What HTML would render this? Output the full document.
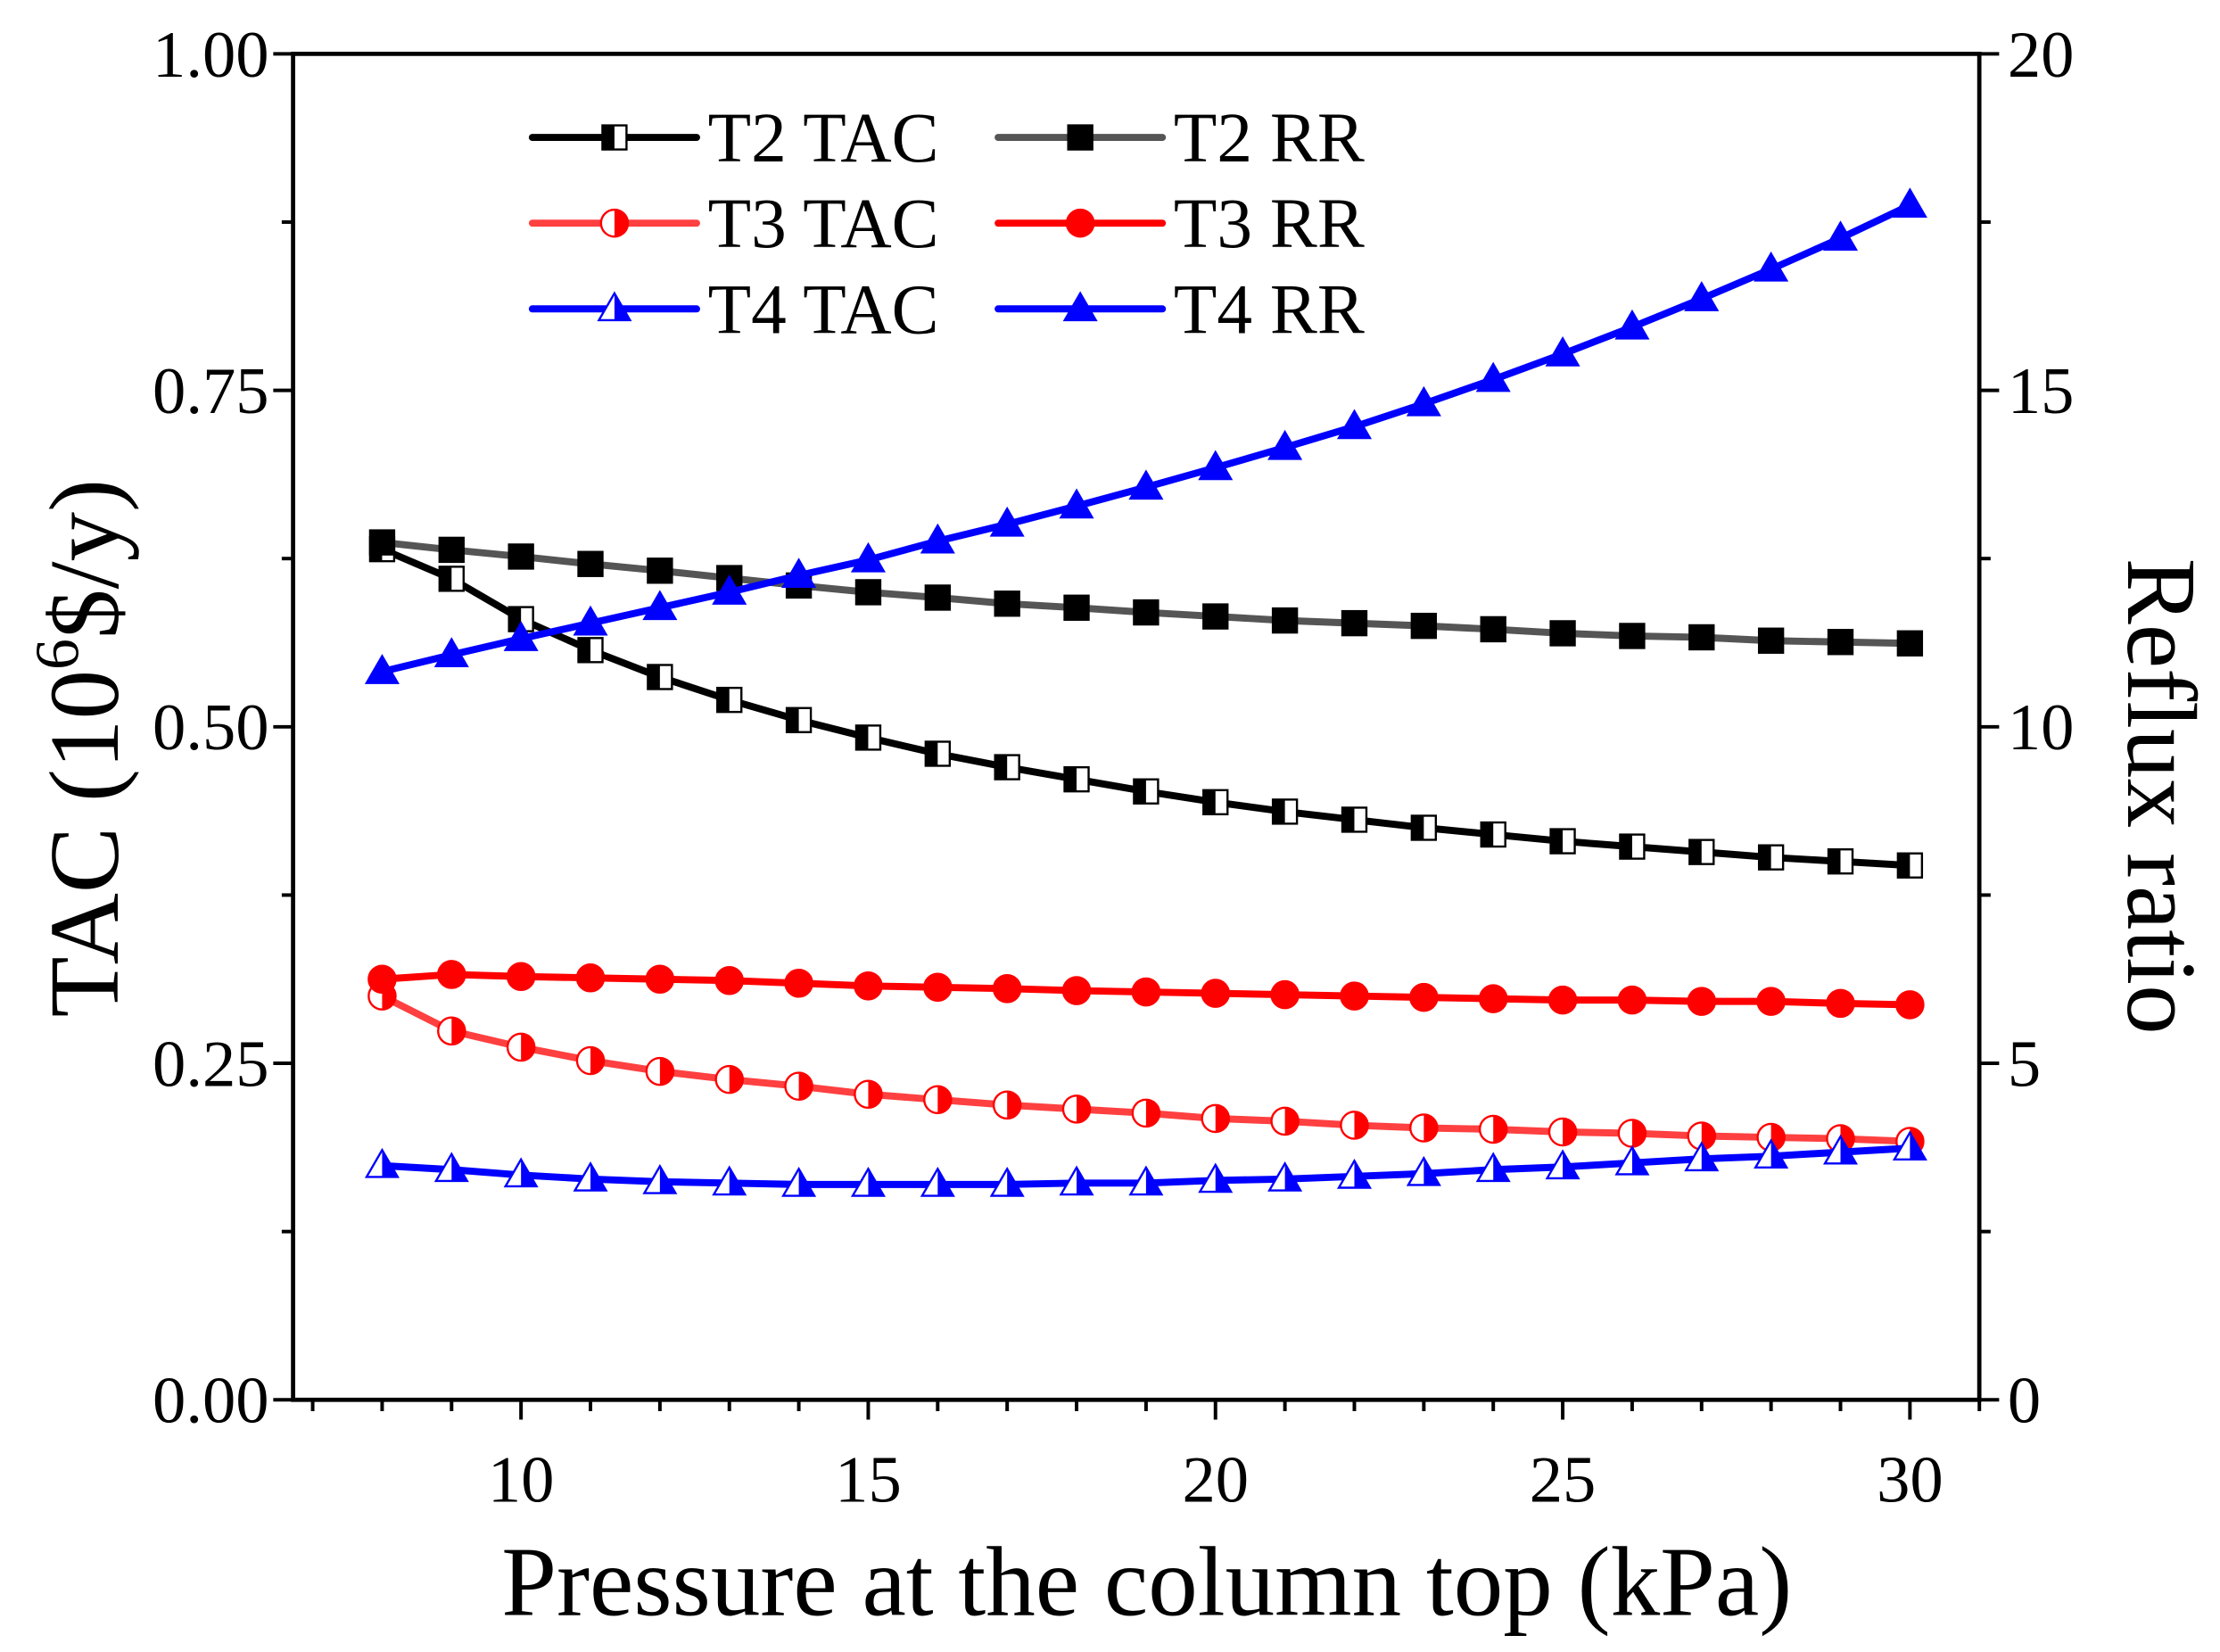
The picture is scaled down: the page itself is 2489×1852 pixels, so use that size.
<!DOCTYPE html>
<html><head><meta charset="utf-8"><style>
html,body{margin:0;padding:0;background:#fff}
svg{display:block;font-family:"Liberation Serif",serif}
</style></head><body>
<svg id="chart" width="2489" height="1852" viewBox="0 0 1568 1166" preserveAspectRatio="none" xmlns="http://www.w3.org/2000/svg">
<defs>
<clipPath id="lh"><rect x="-20" y="-20" width="20" height="40"/></clipPath>
<clipPath id="rh"><rect x="0" y="-20" width="20" height="40"/></clipPath>
</defs>
<g id="axes"></g>
<g id="series"></g>
<g id="legend"></g>
</svg>
<script>
const pressures=[8,9,10,11,12,13,14,15,16,17,18,19,20,21,22,23,24,25,26,27,28,29,30];
const t2Tac=[0.632,0.61,0.58,0.557,0.537,0.52,0.505,0.492,0.48,0.47,0.461,0.452,0.444,0.437,0.431,0.425,0.42,0.415,0.411,0.407,0.403,0.4,0.397];
const t2Rr=[12.74,12.63,12.53,12.42,12.32,12.21,12.1,12.0,11.92,11.83,11.77,11.7,11.64,11.58,11.54,11.5,11.45,11.39,11.35,11.33,11.28,11.26,11.24];
const t3Tac=[0.3,0.274,0.262,0.252,0.244,0.238,0.233,0.227,0.223,0.219,0.216,0.213,0.209,0.207,0.204,0.202,0.201,0.199,0.198,0.196,0.195,0.194,0.192];
const t3Rr=[6.25,6.32,6.29,6.27,6.25,6.23,6.19,6.15,6.13,6.11,6.08,6.06,6.04,6.02,6.0,5.98,5.96,5.94,5.94,5.92,5.92,5.89,5.87];
const t4Tac=[0.174,0.171,0.167,0.164,0.162,0.161,0.16,0.16,0.16,0.16,0.161,0.161,0.163,0.164,0.166,0.168,0.171,0.173,0.176,0.179,0.181,0.184,0.187];
const t4Rr=[10.82,11.07,11.31,11.54,11.77,12.0,12.25,12.48,12.76,13.01,13.28,13.56,13.85,14.15,14.46,14.8,15.16,15.54,15.94,16.36,16.8,17.26,17.75];
const xTicks=[10,15,20,25,30];
const yLeftTicks=["0.00","0.25","0.50","0.75","1.00"];
const yRightTicks=[0,5,10,15,20];

const L=207,R=1398,T=38,B=988;
const xs=v=>368+(v-10)*(1349-368)/20;
const yl=v=>B-v*(B-T);
const yr=v=>B-v/20*(B-T);
const NS="http://www.w3.org/2000/svg";
function mk(tag,attrs,parent,text){const e=document.createElementNS(NS,tag);for(const k in attrs)e.setAttribute(k,attrs[k]);if(text!==undefined)e.textContent=text;parent.appendChild(e);return e;}
const ax=document.getElementById('axes'),se=document.getElementById('series'),lg=document.getElementById('legend');

let f=mk('rect',{x:L,y:T,width:R-L,height:B-T,fill:'none',stroke:'#000','stroke-width':3},ax);


for(let v=7;v<=31;v++){
  const major=v%5===0;
  let t=mk('line',{x1:xs(v),x2:xs(v),y1:B,y2:B+(major?14:8),stroke:'#000','stroke-width':2.5},ax);
  
  
}
xTicks.forEach(v=>{
  let t=mk('text',{x:xs(v),y:B+72,'text-anchor':'middle','font-size':47},ax,String(v));
  
  
});
for(let i=0;i<=8;i++){
  const y=B-i*(B-T)/8,major=i%2===0;
  let a=mk('line',{x1:L-(major?14:8),x2:L,y1:y,y2:y,stroke:'#000','stroke-width':2.5},ax);
  
  
  let b=mk('line',{x1:R,x2:R+(major?14:8),y1:y,y2:y,stroke:'#000','stroke-width':2.5},ax);
  
  
}
yLeftTicks.forEach((s,i)=>{
  let t=mk('text',{x:L-17,y:yl(parseFloat(s))+16,'text-anchor':'end','font-size':47},ax,s);
  
  
});
yRightTicks.forEach(v=>{
  let t=mk('text',{x:R+20,y:yr(v)+16,'text-anchor':'start','font-size':47},ax,String(v));
  
  
});
let xt=mk('text',{x:810,y:1140,'text-anchor':'middle','font-size':70},ax,'Pressure at the column top (kPa)');


let ylt=mk('text',{transform:'translate(83,528) rotate(-90)','text-anchor':'middle','font-size':70},ax);


ylt.innerHTML='TAC (10<tspan font-size="44" dy="-28">6</tspan><tspan dy="28">$/y)</tspan>';
let yrt=mk('text',{transform:'translate(1503,562) rotate(90)','text-anchor':'middle','font-size':70},ax,'Reflux ratio');



function marker(g,type,color,fillMode,x,y){
  const m=mk('g',{transform:`translate(${x},${y})`},g);
  let shape;
  if(type==='sq') shape=(a)=>mk('rect',Object.assign({x:-8.5,y:-8.5,width:17,height:17},a),m);
  if(type==='ci') shape=(a)=>mk('circle',Object.assign({r:9.5},a),m);
  if(type==='tr') shape=(a)=>mk('polygon',Object.assign({points:'0,-11 11,8 -11,8'},a),m);
  if(fillMode==='full'){shape({fill:color,stroke:color,'stroke-width':1.5});}
  else{
    shape({fill:'#fff',stroke:'none'});
    shape({fill:color,'clip-path':fillMode==='left'?'url(#lh)':'url(#rh)'});
    shape({fill:'none',stroke:color,'stroke-width':1.5});
  }
  return m;
}
const defs=[
 {name:'t2-tac',vals:t2Tac,axis:'l',line:'#000',mc:'#000',type:'sq',fill:'left',label:'T2 TAC'},
 {name:'t2-rr',vals:t2Rr,axis:'r',line:'#555',mc:'#000',type:'sq',fill:'full',label:'T2 RR'},
 {name:'t3-tac',vals:t3Tac,axis:'l',line:'#ff4040',mc:'#f00',type:'ci',fill:'right',label:'T3 TAC'},
 {name:'t3-rr',vals:t3Rr,axis:'r',line:'#f00',mc:'#f00',type:'ci',fill:'full',label:'T3 RR'},
 {name:'t4-tac',vals:t4Tac,axis:'l',line:'#00f',mc:'#00f',type:'tr',fill:'right',label:'T4 TAC'},
 {name:'t4-rr',vals:t4Rr,axis:'r',line:'#00f',mc:'#00f',type:'tr',fill:'full',label:'T4 RR'}
];
defs.forEach(d=>{
  const g=mk('g',{},se);
  
  
  const yf=d.axis==='l'?yl:yr;
  const pts=pressures.map((p,i)=>xs(p)+','+yf(d.vals[i])).join(' ');
  let pl=mk('polyline',{points:pts,fill:'none',stroke:d.line,'stroke-width':5,'stroke-linejoin':'round'},g);
  
  
  pressures.forEach((p,i)=>{
    const m=marker(g,d.type,d.mc,d.fill,xs(p),yf(d.vals[i]));
    
    
  });
});
defs.forEach((d,i)=>{
  const col=i%2,row=Math.floor(i/2);
  const x0=col===0?376:705,y=97+row*60.5;
  const g=mk('g',{},lg);
  
  
  mk('line',{x1:x0,x2:x0+116,y1:y,y2:y,stroke:d.line,'stroke-width':5,'stroke-linecap':'round'},g);
  marker(g,d.type,d.mc,d.fill,x0+58,y);
  mk('text',{x:x0+124,y:y+17,'font-size':50},g,d.label);
});
</script>
</body></html>
